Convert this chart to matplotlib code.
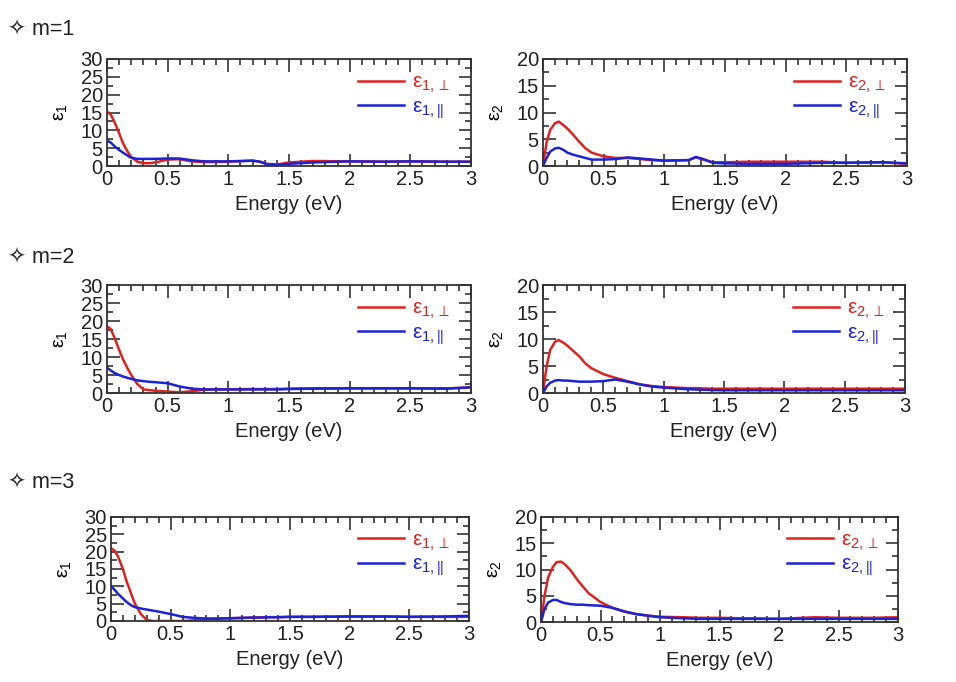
import numpy as np
import matplotlib
matplotlib.use("Agg")
import matplotlib.pyplot as plt
from matplotlib.ticker import MultipleLocator

plt.rcParams['font.family'] = ['Liberation Sans', 'DejaVu Sans']
plt.rcParams['mathtext.fontset'] = 'custom'
plt.rcParams['mathtext.rm'] = 'Liberation Sans'
plt.rcParams['mathtext.it'] = 'Liberation Sans'

# energy grid (eV) shared by all curves
energy = [0, 0.03, 0.06, 0.1, 0.13, 0.17, 0.2, 0.25, 0.3, 0.35, 0.4, 0.5, 0.6, 0.7,
          0.8, 0.9, 1.0, 1.2, 1.26, 1.32, 1.4, 1.5, 1.7, 2.0, 2.3, 2.5, 2.8, 3.0]

# m=1
m1_eps1_perp = [15.2, 14.5, 12.5, 9.2, 6.5, 4.0, 2.5, 1.2, 0.8, 0.8, 1.0, 1.8, 1.9, 1.3,
                1.1, 1.1, 1.2, 1.5, 1.2, 0.6, 0.4, 1.0, 1.4, 1.3, 1.2, 1.3, 1.2, 1.2]
m1_eps1_par = [7.1, 6.6, 5.6, 4.5, 3.8, 2.9, 2.3, 2.0, 2.0, 2.0, 2.0, 2.1, 2.1, 1.6,
               1.3, 1.3, 1.3, 1.5, 1.2, 0.5, 0.3, 0.6, 1.0, 1.3, 1.2, 1.3, 1.2, 1.2]
m1_eps2_perp = [0, 4.5, 6.8, 8.0, 8.3, 7.6, 7.0, 5.8, 4.5, 3.3, 2.5, 1.8, 1.5, 1.5,
                1.3, 1.1, 1.0, 1.1, 1.6, 1.2, 0.7, 0.7, 0.8, 0.8, 0.8, 0.6, 0.7, 0.4]
m1_eps2_par = [0, 1.5, 2.7, 3.3, 3.4, 3.0, 2.5, 2.1, 1.8, 1.5, 1.2, 1.2, 1.3, 1.6,
               1.4, 1.2, 1.0, 1.1, 1.7, 1.3, 0.6, 0.5, 0.4, 0.4, 0.6, 0.6, 0.7, 0.5]

# m=2
m2_eps1_perp = [18.5, 17.8, 15.5, 12.0, 9.5, 6.8, 5.0, 2.5, 1.0, 0.8, 0.6, 0.4, 0.2, 0.5,
                0.9, 1.0, 1.0, 1.1, 1.1, 1.1, 1.1, 1.2, 1.3, 1.3, 1.3, 1.3, 1.3, 1.5]
m2_eps1_par = [7.0, 6.3, 5.6, 5.0, 4.6, 4.2, 3.9, 3.5, 3.3, 3.1, 3.0, 2.7, 1.8, 1.2,
               1.0, 1.0, 1.0, 1.0, 1.0, 1.0, 1.0, 1.1, 1.2, 1.3, 1.3, 1.3, 1.2, 1.6]
m2_eps2_perp = [0, 5.0, 8.0, 9.5, 9.8, 9.3, 8.8, 7.8, 6.8, 5.5, 4.6, 3.5, 2.8, 2.2,
                1.6, 1.3, 1.1, 0.9, 0.9, 0.85, 0.8, 0.8, 0.8, 0.8, 0.8, 0.8, 0.8, 0.8]
m2_eps2_par = [0, 1.2, 1.9, 2.3, 2.4, 2.3, 2.3, 2.2, 2.1, 2.1, 2.1, 2.2, 2.5, 2.1,
               1.6, 1.2, 1.0, 0.7, 0.65, 0.6, 0.55, 0.5, 0.5, 0.5, 0.5, 0.5, 0.5, 0.5]

# m=3
m3_eps1_perp = [21.0, 20.3, 18.5, 15.0, 11.5, 7.8, 5.0, 2.0, 0.3, 0.0, 0.0, 0.0, 0.0, 0.2,
                0.6, 0.7, 0.8, 1.0, 1.0, 1.1, 1.1, 1.2, 1.2, 1.3, 1.3, 1.2, 1.2, 1.2]
m3_eps1_par = [10.0, 9.0, 7.8, 6.5, 5.5, 4.5, 4.0, 3.6, 3.3, 3.0, 2.7, 2.0, 1.2, 0.9,
               0.7, 0.7, 0.8, 1.0, 1.0, 1.1, 1.1, 1.2, 1.2, 1.3, 1.3, 1.2, 1.3, 1.5]
m3_eps2_perp = [0, 5.0, 8.5, 10.5, 11.4, 11.5, 11.0, 9.8, 8.2, 6.8, 5.5, 3.8, 2.7, 2.0,
                1.5, 1.2, 1.0, 0.9, 0.85, 0.8, 0.8, 0.8, 0.7, 0.6, 0.9, 0.8, 0.8, 0.9]
m3_eps2_par = [0, 2.5, 3.7, 4.2, 4.2, 3.8, 3.6, 3.4, 3.3, 3.3, 3.2, 3.1, 2.7, 2.0,
               1.5, 1.2, 0.9, 0.7, 0.65, 0.6, 0.6, 0.6, 0.6, 0.6, 0.6, 0.6, 0.6, 0.6]

row_labels = ['m=1', 'm=2', 'm=3']
eps1_data = [(m1_eps1_perp, m1_eps1_par), (m2_eps1_perp, m2_eps1_par), (m3_eps1_perp, m3_eps1_par)]
eps2_data = [(m1_eps2_perp, m1_eps2_par), (m2_eps2_perp, m2_eps2_par), (m3_eps2_perp, m3_eps2_par)]

red = '#e0221f'
blue = '#1c22d6'

W, H = 956, 682
fig = plt.figure(figsize=(W / 100, H / 100), dpi=100)

# axes boxes in pixels: (left, right, top, bottom)
boxes_left = [(107, 471, 59, 166), (107, 471, 285, 393), (111, 469, 517, 621)]
boxes_right = [(543, 907, 59, 166), (543, 905, 285, 393), (541, 898, 517, 622)]
label_y = [30, 258, 483]


def make_axes(box):
    l, r, t, b = box
    return fig.add_axes([l / W, 1 - b / H, (r - l) / W, (b - t) / H])


def style(ax, ymax):
    ax.set_xlim(0, 3)
    ax.set_ylim(0, ymax)
    ax.xaxis.set_major_locator(MultipleLocator(0.5))
    ax.xaxis.set_minor_locator(MultipleLocator(0.1))
    ax.yaxis.set_major_locator(MultipleLocator(5))
    ax.yaxis.set_minor_locator(MultipleLocator(2.5))
    ax.xaxis.set_major_formatter(plt.FuncFormatter(lambda v, p: '%g' % v))
    ax.tick_params(which='both', direction='in', top=True, right=True,
                   color='#333333', labelsize=14.5, labelcolor='#222222')
    ax.tick_params(which='major', length=9, width=1.2, pad=3)
    ax.tick_params(which='minor', length=4.5, width=1.2)
    for s in ax.spines.values():
        s.set_linewidth(1.3)
        s.set_color('#333333')
    ax.set_xlabel('Energy (eV)', fontsize=14.5, labelpad=4, color='#222222')


def add_legend(ax):
    leg = ax.legend(loc='upper left', bbox_to_anchor=(0.69, 0.87), frameon=False,
                    fontsize=15, borderpad=0, borderaxespad=0, handlelength=2.2,
                    handletextpad=0.4, labelspacing=0.1)
    for t, c in zip(leg.get_texts(), [red, blue]):
        t.set_color(c)


for i in range(3):
    fig.text(8 / W, 1 - label_y[i] / H, '\u2727 ' + row_labels[i], fontsize=15.5,
             va='center', ha='left', color='#222222')

    ax = make_axes(boxes_left[i])
    perp, par = eps1_data[i]
    ax.plot(energy, perp, color=red, lw=1.8, label='ε$_{1,\\perp}$')
    ax.plot(energy, par, color=blue, lw=1.8, label='ε$_{1,||}$')
    style(ax, 30)
    ax.set_ylabel('ε$_1$', fontsize=14, labelpad=8)
    add_legend(ax)

    ax = make_axes(boxes_right[i])
    perp, par = eps2_data[i]
    ax.plot(energy, perp, color=red, lw=1.8, label='ε$_{2,\\perp}$')
    ax.plot(energy, par, color=blue, lw=1.8, label='ε$_{2,||}$')
    style(ax, 20)
    ax.set_ylabel('ε$_2$', fontsize=14, labelpad=8)
    add_legend(ax)

plt.savefig('out.png', dpi=100)
